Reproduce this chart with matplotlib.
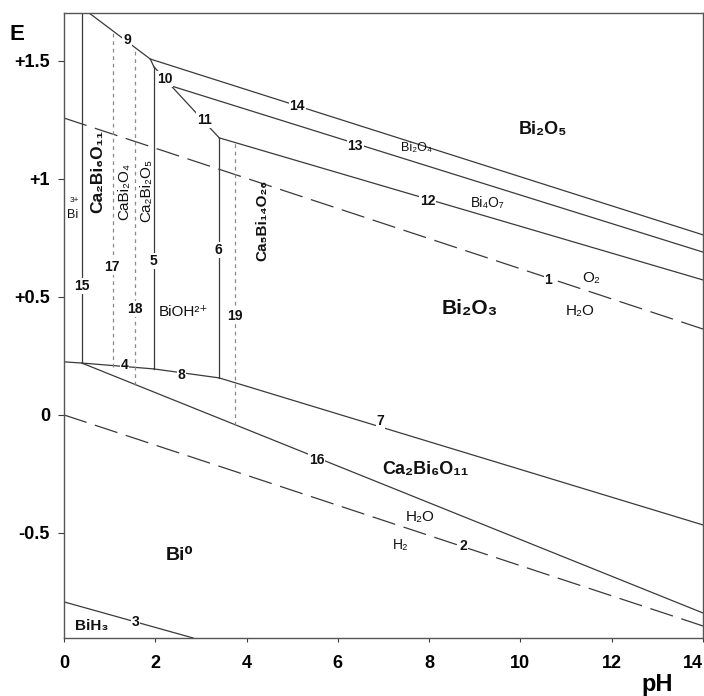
import matplotlib
matplotlib.use("Agg")
import matplotlib.pyplot as plt

plt.rcParams["font.family"] = ["Liberation Sans", "DejaVu Sans"]

# boundary lines (pH, E)
line_1 = ([0, 14], [1.258, 0.364])          # O2 / H2O
line_2 = ([0, 14], [0.0, -0.894])           # H2O / H2
line_3 = ([0, 2.83], [-0.792, -0.945])
line_4 = ([0, 0.39, 1.97], [0.225, 0.220, 0.195])
line_5 = ([1.97, 1.97], [0.195, 1.475])
line_6 = ([3.40, 3.40], [0.157, 1.174])
line_7 = ([3.40, 14], [0.157, -0.466])
line_8 = ([1.97, 3.40], [0.195, 0.157])
line_9 = ([0.55, 1.89, 1.97], [1.703, 1.508, 1.475])
line_10 = ([1.97, 2.35], [1.475, 1.394])
line_11 = ([2.35, 3.40], [1.394, 1.174])
line_12 = ([3.40, 14], [1.174, 0.572])
line_13 = ([2.35, 14], [1.394, 0.690])
line_14 = ([1.89, 14], [1.508, 0.763])
line_15 = ([0.39, 0.39], [0.220, 1.703])
line_16 = ([0.39, 14], [0.220, -0.839])
line_17 = ([1.07, 1.07], [0.205, 1.627])
line_18 = ([1.56, 1.56], [0.129, 1.556])
line_19 = ([3.75, 3.75], [-0.041, 1.155])

solid_lines = [line_3, line_4, line_5, line_6, line_7, line_8, line_9, line_10,
               line_11, line_12, line_13, line_14, line_15, line_16]
water_lines = [line_1, line_2]
dotted_lines = [line_17, line_18, line_19]

# line numbers and where they sit
num_labels = ["1", "2", "3", "4", "5", "6", "7", "8", "9", "10",
              "11", "12", "13", "14", "15", "16", "17", "18", "19"]
num_ph = [10.61, 8.75, 1.56, 1.32, 1.97, 3.38, 6.93, 2.57, 1.38, 2.21,
          3.07, 7.96, 6.38, 5.11, 0.39, 5.53, 1.05, 1.56, 3.75]
num_e = [0.572, -0.555, -0.877, 0.212, 0.653, 0.699, -0.025, 0.169, 1.589, 1.424,
         1.250, 0.907, 1.140, 1.309, 0.547, -0.191, 0.627, 0.449, 0.419]

# species labels
species = ["Bi₂O₅", "Bi₂O₃", "Ca₂Bi₆O₁₁", "Bi₄O₇", "Bi₂O₄", "O₂", "H₂O", "H₂O",
           "H₂", "Bi⁰", "BiH₃", "BiOH²⁺", "Bi", "3+"]
sp_ph = [10.50, 8.90, 7.92, 9.28, 7.72, 11.54, 11.32, 7.81, 7.37, 2.54, 0.61, 2.61,
         0.18, 0.22]
sp_e = [1.208, 0.453, -0.233, 0.898, 1.131, 0.580, 0.441, -0.432, -0.551, -0.597,
        -0.894, 0.436, 0.847, 0.907]
sp_size = [13, 15, 13, 10, 9, 11, 11, 11, 10, 14, 11, 11, 9, 6]
sp_bold = [True, True, True, False, False, False, False, False, False, True, True,
           False, False, False]

# rotated (vertical) compound labels
vert_species = ["Ca₂Bi₆O₁₁", "CaBi₂O₄", "Ca₂Bi₂O₅", "Ca₅Bi₁₄O₂₆"]
vert_ph = [0.75, 1.32, 1.80, 4.34]
vert_e = [1.03, 0.945, 0.953, 0.826]
vert_size = [12.5, 11, 11, 11]
vert_bold = [True, False, False, True]

x_ticks = [0, 2, 4, 6, 8, 10, 12, 14]
y_ticks = [-0.5, 0, 0.5, 1, 1.5]
y_ticklabels = ["-0.5", "0", "+0.5", "+1", "+1.5"]

fig = plt.figure(figsize=(7.04, 6.96), dpi=100)
ax = fig.add_axes([64 / 704, 1 - 638 / 696, 639 / 704, 625 / 696])

col = "#3a3a3a"
for ph, e in solid_lines:
    ax.plot(ph, e, color=col, lw=0.9)
for ph, e in water_lines:
    ax.plot(ph, e, color=col, lw=0.9, linestyle=(0, (19, 7)))
for ph, e in dotted_lines:
    ax.plot(ph, e, color="#8a8a8a", lw=0.9, linestyle=(0, (3, 3)))

for t, x, y in zip(num_labels, num_ph, num_e):
    ax.text(x, y, t, ha="center", va="center", fontsize=10, fontweight="bold",
            color="#111111",
            bbox=dict(boxstyle="square,pad=0.05", fc="white", ec="none"))

for t, x, y, s, b in zip(species, sp_ph, sp_e, sp_size, sp_bold):
    ax.text(x, y, t, ha="center", va="center", fontsize=s,
            fontweight="bold" if b else "normal", color="#111111")

for t, x, y, s, b in zip(vert_species, vert_ph, vert_e, vert_size, vert_bold):
    ax.text(x, y, t, ha="center", va="center", fontsize=s, rotation=90,
            fontweight="bold" if b else "normal", color="#111111")

ax.set_xlim(0, 14)
ax.set_ylim(-0.945, 1.703)
ax.set_xticks(x_ticks)
ax.set_xticklabels([str(v) for v in x_ticks])
ax.set_yticks(y_ticks)
ax.set_yticklabels(y_ticklabels)
ax.tick_params(axis="x", direction="out", length=3, labelsize=13, pad=9, color=col)
ax.tick_params(axis="y", direction="out", length=4, labelsize=13, pad=6, color=col)
for lbl in ax.get_xticklabels() + ax.get_yticklabels():
    lbl.set_fontweight("bold")
# keep the last pH label inside the figure edge
ax.get_xticklabels()[-1].set_horizontalalignment("right")
for sp in ax.spines.values():
    sp.set_color("#555555")
    sp.set_linewidth(1.0)

fig.text(17 / 704, 1 - 35 / 696, "E", fontsize=16, fontweight="bold",
         ha="center", va="center")
fig.text(657 / 704, 1 - 684 / 696, "pH", fontsize=17, fontweight="bold",
         ha="center", va="center")

fig.savefig("out.png", dpi=100)
